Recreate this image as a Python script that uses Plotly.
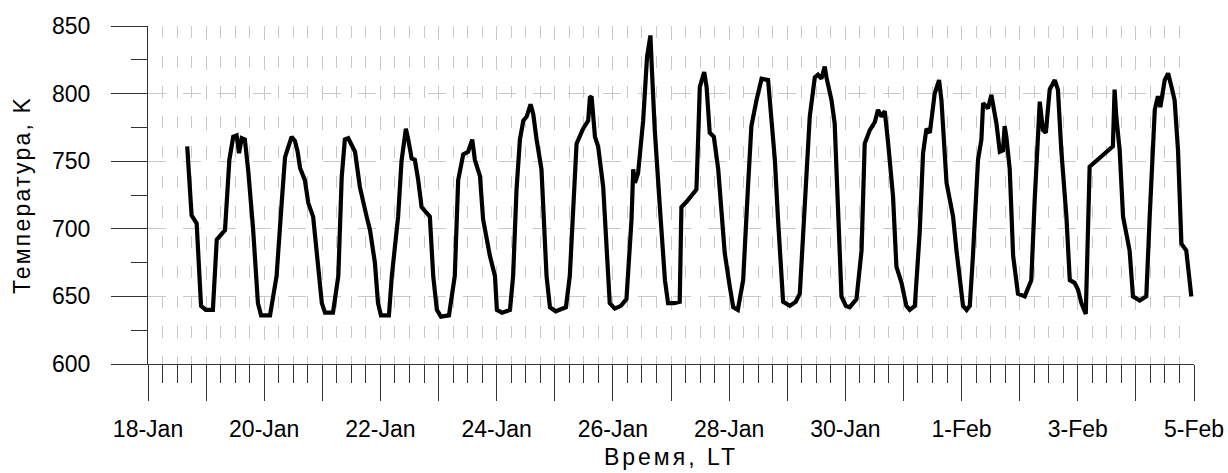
import pandas as pd
import plotly.graph_objects as go

# ---- data (hours since 18-Jan 00:00, temperature in K) ----
start = "2011-01-18 00:00"
hours = [16.2, 18.0, 20.1, 21.9, 23.9, 26.8, 28.4, 31.8, 33.6, 35.2, 36.6, 37.6, 38.7, 40.0, 41.4, 43.4,
         45.4, 46.7, 50.4, 53.1, 55.2, 56.6, 59.3, 60.7, 61.8, 62.8, 64.8, 66.2, 68.2, 69.7, 71.8, 73.1,
         76.4, 78.6, 80.0, 81.3, 82.7, 85.5, 87.5, 90.3, 91.7, 93.7, 95.0, 96.2, 99.5, 100.7, 102.0, 103.3,
         104.7, 106.5, 107.5, 108.9, 110.2, 111.6, 113.0, 116.4, 117.8, 119.3, 121.0, 124.3, 126.7, 128.1,
         130.2, 132.2, 133.9, 135.0, 137.1, 138.4, 141.2, 143.3, 144.1, 146.2, 149.5, 150.8, 152.2, 153.6,
         155.0, 156.4, 158.0, 159.1, 160.5, 162.5, 164.6, 166.0, 168.4, 172.6, 174.2, 176.3, 177.0, 179.7,
         181.8, 182.5, 183.2, 184.6, 185.9, 188.0, 189.4, 190.7, 192.8, 195.3, 197.6, 199.7, 200.4, 201.1,
         202.4, 204.5, 206.1, 207.5, 208.0, 209.3, 211.4, 213.5, 214.8, 217.2, 219.6, 220.3, 222.4, 226.5,
         227.2, 227.9, 229.7, 230.7, 232.0, 233.7, 235.5, 236.9, 238.2, 240.3, 241.7, 243.6, 245.8, 247.8,
         249.2, 251.3, 253.4, 256.1, 257.5, 258.9, 260.2, 261.6, 262.3, 265.1, 267.5, 269.2, 270.6, 272.6,
         273.3, 275.4, 276.7, 278.1, 279.5, 280.2, 282.3, 283.6, 285.0, 286.4, 288.2, 289.8, 292.6, 294.7,
         296.0, 298.1, 300.2, 301.5, 302.9, 304.3, 305.7, 307.7, 309.1, 311.2, 313.2, 314.6, 316.7, 318.7,
         320.1, 321.5, 322.9, 324.9, 326.7, 327.7, 329.8, 332.5, 333.9, 336.6, 338.1, 339.4, 340.7, 342.8,
         344.2, 344.9, 346.9, 348.3, 350.4, 351.8, 353.1, 353.8, 354.5, 355.9, 357.3, 359.3, 362.1, 364.8,
         366.2, 367.6, 368.3, 369.6, 370.8, 372.4, 374.5, 375.8, 377.2, 379.3, 380.7, 382.7, 384.1, 385.5,
         387.3, 388.9, 394.4, 398.5, 399.2, 399.9, 401.3, 402.7, 405.4, 406.8, 409.6, 412.3, 413.7, 415.8,
         417.1, 418.1, 419.9, 421.3, 422.7, 424.0, 425.4, 426.8, 428.8, 430.9]
temperature = [761, 710, 704, 643, 640, 640, 692, 699, 751, 768, 769, 756, 767, 766, 743, 700,
               645, 636, 636, 665, 719, 753, 768, 765, 757, 745, 736, 719, 709, 682, 645, 638,
               638, 665, 738, 766, 767, 757, 731, 709, 699, 675, 645, 636, 636, 665, 688, 709,
               750, 774, 766, 752, 751, 736, 716, 709, 665, 640, 635, 636, 665, 736,
               755, 757, 766, 751, 739, 707, 680, 665, 640, 638, 640, 665, 729, 766,
               780, 783, 792, 785, 766, 744, 665, 642, 639, 642, 665, 736, 763, 774,
               780, 797, 798, 768, 761, 731, 682, 645, 641, 643, 648, 707, 744, 734,
               741, 780, 827, 843, 822, 773, 716, 662, 645, 645, 646, 716, 720, 729,
               766, 805, 816, 805, 771, 768, 744, 707, 682, 657, 642, 640, 662, 731,
               776, 795, 811, 810, 780, 751, 707, 665, 646, 643, 646, 652, 697, 771,
               783, 812, 814, 811, 820, 812, 795, 778, 709, 650, 643, 642, 648, 684,
               763, 773, 779, 788, 783, 787, 763, 724, 672, 660, 643, 640, 643, 697,
               756, 774, 771, 800, 810, 795, 734, 709, 684, 643, 640, 643, 680, 751,
               766, 793, 789, 799, 778, 757, 758, 776, 768, 744, 680, 652, 650, 662,
               721, 771, 794, 773, 771, 803, 810, 803, 758, 709, 662, 660, 655, 645,
               637, 746, 755, 761, 803, 783, 758, 709, 684, 650, 647, 650, 709, 788,
               798, 790, 810, 815, 805, 795, 758, 689, 684, 650]

x_tick_labels = ["18-Jan", "20-Jan", "22-Jan", "24-Jan", "26-Jan", "28-Jan",
                 "30-Jan", "1-Feb", "3-Feb", "5-Feb"]
y_tick_values = [600, 650, 700, 750, 800, 850]

x_title = "Время, LT"
y_title = "Температура, K"

t0 = pd.Timestamp(start)
times = [t0 + pd.Timedelta(hours=h) for h in hours]
n_days = 2 * (len(x_tick_labels) - 1)
day_ticks = [t0 + pd.Timedelta(days=d) for d in range(n_days + 1)]
day_text = []
for d in range(n_days + 1):
    day_text.append(x_tick_labels[d // 2] if d % 2 == 0 else "")

FONT = "Liberation Sans, Arial, sans-serif"
GRID = "#c8c8c8"
AX = "#333333"

fig = go.Figure()
fig.add_trace(go.Scatter(x=times, y=temperature, mode="lines",
                         line=dict(color="black", width=4.2), showlegend=False))

fig.update_layout(
    width=1228, height=473,
    margin=dict(l=148, r=34, t=26, b=109, autoexpand=False),
    plot_bgcolor="white", paper_bgcolor="white",
    font=dict(family=FONT, size=23, color="black"),
)
fig.update_xaxes(
    type="date", automargin=False,
    range=[day_ticks[0], day_ticks[-1]],
    tickmode="array", tickvals=day_ticks, ticktext=day_text,
    ticks="outside", ticklen=36, tickwidth=1, tickcolor=AX,
    showline=True, linecolor=AX, linewidth=1,
    showgrid=True, gridcolor=GRID, gridwidth=1, griddash="14px,16px",
    ticklabelstandoff=8,
    minor=dict(dtick=6 * 3600 * 1000, tick0=day_ticks[0], ticks="outside", ticklen=18,
               tickcolor=AX, tickwidth=1, showgrid=True, gridcolor=GRID, gridwidth=1,
               griddash="12px,18px"),
    title=dict(text='<span style="letter-spacing:3px">' + x_title + '</span>',
               font=dict(size=23), standoff=8),
    fixedrange=True, zeroline=False,
)
fig.update_yaxes(
    automargin=False,
    range=[600, 850],
    tickmode="array", tickvals=y_tick_values,
    ticks="outside", ticklen=36, tickwidth=1, tickcolor=AX,
    showline=True, linecolor=AX, linewidth=1,
    showgrid=True, gridcolor=GRID, gridwidth=1, griddash="18px,17px",
    ticklabelstandoff=16,
    minor=dict(dtick=25, tick0=600, ticks="outside", ticklen=16, tickcolor=AX,
               tickwidth=1, showgrid=False),
    title=dict(text='<span style="letter-spacing:2.2px">' + y_title + '</span>',
               font=dict(size=23), standoff=14),
    fixedrange=True, zeroline=False,
)

fig.write_html("out.html", config={"displayModeBar": False},
               post_script="document.body.style.margin='0';document.body.style.overflow='hidden';")
